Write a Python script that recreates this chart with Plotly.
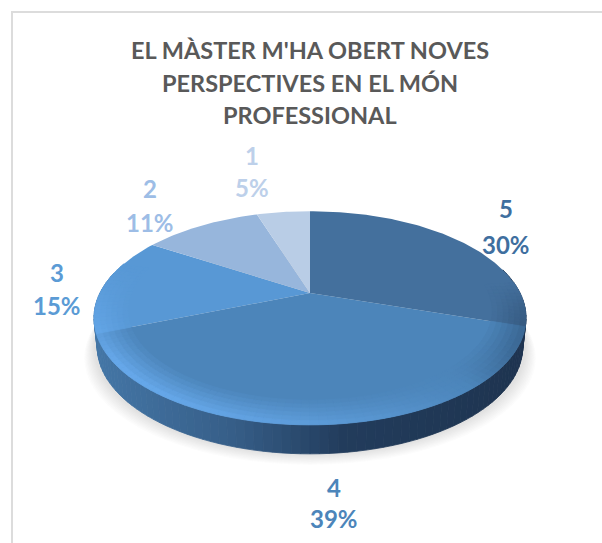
import math
import plotly.graph_objects as go

categories = ["5", "4", "3", "2", "1"]
shares = [30, 39, 15, 11, 5]
title_lines = ["EL MÀSTER M'HA OBERT NOVES", "PERSPECTIVES EN EL MÓN", "PROFESSIONAL"]

slice_colors = ["#44709d", "#4c85ba", "#5898d5", "#97b6dc", "#b9cde6"]
label_colors = ["#3f6f9f", "#4c85ba", "#5b9bd5", "#9dbde6", "#bdd0ea"]
label_xy = [(506, 208, 244), (334, 487, 518), (57, 272, 305), (150, 188, 222), (252, 155, 187)]

CX, CY, A, B, K, DEPTH = 310, 293, 210, 101, 0.234, 29


def project(phi_deg, r=1.0):
    """Perspective projection of a point of the disc; phi clockwise from top."""
    p = math.radians(phi_deg)
    u, v = r * math.sin(p), r * math.cos(p)
    d = 1 + K * v
    return CX + A * u / d, CY - B * v / d


def to_rgb(h):
    return tuple(int(h[i:i + 2], 16) for i in (1, 3, 5))


def mix(c0, c1, f):
    return tuple(c0[i] + (c1[i] - c0[i]) * f for i in range(3))


def css(c):
    return f"rgb({round(c[0])},{round(c[1])},{round(c[2])})"


def gradient(stops, t):
    t = max(0.0, min(1.0, t))
    for (t0, c0), (t1, c1) in zip(stops, stops[1:]):
        if t <= t1:
            return mix(c0, c1, (t - t0) / (t1 - t0))
    return stops[-1][1]


fig = go.Figure()


def poly(pts, color, seal=False):
    xs = [p[0] for p in pts] + [pts[0][0]]
    ys = [p[1] for p in pts] + [pts[0][1]]
    fig.add_trace(go.Scatter(x=xs, y=ys, mode="lines", fill="toself", fillcolor=color,
                             line=dict(width=0.8 if seal else 0, color=color),
                             hoverinfo="skip", showlegend=False))


# soft shadow
for i in range(10):
    grow = 1.0 + (9 - i) * 0.005
    pts = []
    for phi in range(0, 360, 4):
        x, y = project(phi)
        pts.append((CX + (x - CX) * grow, y + DEPTH + 1 + (9 - i) * 1.1))
    poly(pts, "rgba(130,130,130,0.028)")

# side wall
side_stops = [(0.0, (68, 118, 166)), (0.32, (54, 94, 136)), (0.58, (34, 60, 92)), (1.0, (30, 52, 80))]
for phi in range(282, 76, -2):
    x0, y0 = project(phi)
    x1, y1 = project(phi - 2)
    s = 0.985
    b0 = (CX + (x0 - CX) * s, y0 + DEPTH)
    b1 = (CX + (x1 - CX) * s, y1 + DEPTH)
    poly([(x0, y0), (x1, y1), b1, b0], css(gradient(side_stops, ((x0 + x1) / 2 - 95) / 430)), seal=True)

# top face slices, clockwise from 12 o'clock
total = sum(shares)
bounds = [0.0]
for share in shares:
    bounds.append(bounds[-1] + 360.0 * share / total)
for a0, a1, color in zip(bounds, bounds[1:], slice_colors):
    n = max(3, int(a1 - a0))
    poly([(CX, CY)] + [project(a0 + (a1 - a0) * i / n) for i in range(n + 1)], color)

# bevel around the rim, as opaque tints of each slice
LIGHT, DARK = (108, 176, 245), (28, 50, 78)
STEPS = 6
for a0, a1, color in zip(bounds, bounds[1:], slice_colors):
    base = to_rgb(color)
    n = max(2, int((a1 - a0) / 2))
    for j in range(n):
        p0 = a0 + (a1 - a0) * j / n
        p1 = a0 + (a1 - a0) * (j + 1) / n
        mid = math.radians((p0 + p1) / 2)
        light = math.cos(mid - math.radians(230))
        top = 0.3 if light > 0 else 0.1
        gate = max(0.0, min(1.0, (top - math.cos(mid)) / 0.9))
        if gate == 0:
            continue
        for s in range(STEPS):
            r0 = 0.85 + 0.15 * s / STEPS
            r1 = 0.85 + 0.15 * (s + 1) / STEPS
            fade = ((s + 1) / STEPS) ** 1.1
            if light > 0:
                col = mix(base, LIGHT, 0.8 * light * gate * fade)
            else:
                col = mix(base, DARK, 0.85 * min(1, -light * 1.6) * gate * fade)
            poly([project(p0, r0), project(p1, r0), project(p1, r1), project(p0, r1)], css(col), seal=True)

ann = []
for text, y in zip(title_lines, (50, 83, 115)):
    ann.append(dict(x=310, y=y, text=f"<b>{text}</b>", showarrow=False, xref="x", yref="y",
                    font=dict(family="Lato", size=23.5, color="#595959")))
for cat, share, col, (lx, y1, y2) in zip(categories, shares, label_colors, label_xy):
    for txt, y in ((cat, y1), (f"{share}%", y2)):
        ann.append(dict(x=lx, y=y, text=f"<b>{txt}</b>", showarrow=False, xref="x", yref="y",
                        font=dict(family="Lato", size=24, color=col)))

fig.update_layout(
    width=602, height=543, margin=dict(l=0, r=0, t=0, b=0),
    paper_bgcolor="white", plot_bgcolor="white", showlegend=False,
    xaxis=dict(range=[0, 602], visible=False, fixedrange=True),
    yaxis=dict(range=[543, 0], visible=False, fixedrange=True),
    annotations=ann,
    shapes=[dict(type="rect", xref="x", yref="y", x0=12, y0=12, x1=640, y1=600,
                 line=dict(color="#dcdcdc", width=2), layer="below")],
)
fig.write_html("out.html", config={"displayModeBar": False},
               post_script="document.body.style.margin='0';document.body.style.overflow='hidden';")
